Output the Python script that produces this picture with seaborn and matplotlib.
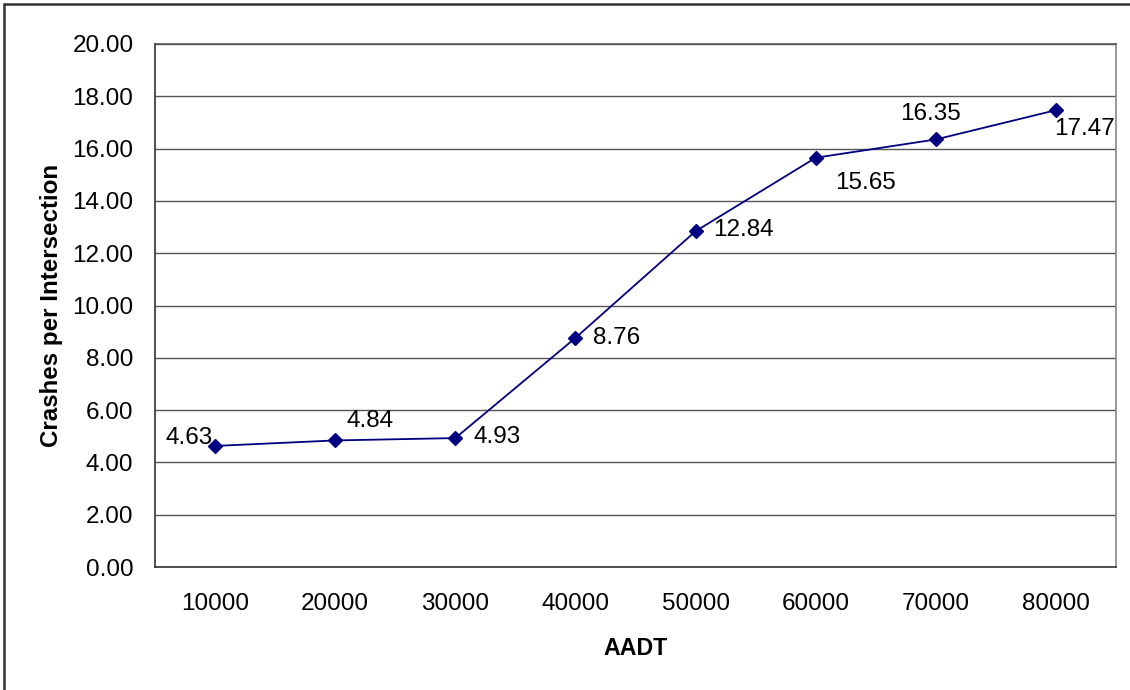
import matplotlib
matplotlib.use("Agg")
import matplotlib.pyplot as plt
import seaborn as sns
import numpy as np
from matplotlib.lines import Line2D

categories = ["10000", "20000", "30000", "40000", "50000", "60000", "70000", "80000"]
crashes = [4.63, 4.84, 4.93, 8.76, 12.84, 15.65, 16.35, 17.47]
y_ticks = [0, 2, 4, 6, 8, 10, 12, 14, 16, 18, 20]
x_label = "AADT"
y_label = "Crashes per Intersection"

# label offsets (points) and alignment for each data label
label_offsets = [(-2, 5.5), (8, 14), (13, 0.5), (13, 0), (13, 1), (14, -18), (-26, 18), (-1, -13.5)]
label_ha = ["right", "left", "left", "left", "left", "left", "left", "left"]

sns.set_style("white")
plt.rcParams["font.family"] = ["Liberation Sans", "DejaVu Sans"]
plt.rcParams["text.color"] = "black"
plt.rcParams["xtick.color"] = "black"
plt.rcParams["ytick.color"] = "black"
plt.rcParams["axes.labelcolor"] = "black"

fig = plt.figure(figsize=(11.3, 6.9), dpi=100)
ax = fig.add_axes([155 / 1130, (690 - 567) / 690, (1116 - 155) / 1130, (567 - 44) / 690])

sns.pointplot(x=categories, y=crashes, ax=ax, color="#000080", markers="D",
              markersize=7.5, linewidth=1.3, errorbar=None, native_scale=False)

ax.set_xlim(-0.5, len(categories) - 0.5)
ax.set_ylim(0, 20)
ax.set_yticks(y_ticks)
ax.set_yticklabels([f"{v:.2f}" for v in y_ticks], fontsize=17.5)
ax.yaxis.grid(True, color="#555555", linewidth=1.0)
ax.set_axisbelow(True)

# category labels at centers, tick marks between categories
ax.set_xticks(np.arange(len(categories)))
ax.set_xticklabels(categories, fontsize=17.5)
ax.tick_params(axis="x", length=0, pad=19)
ax.set_xticks(np.arange(len(categories) + 1) - 0.5, minor=True)
ax.tick_params(axis="x", which="minor", length=7, width=1, color="#333333", direction="out")
ax.tick_params(axis="y", length=7, width=1, color="#333333", direction="out", pad=8.5,
               labelcolor="black")

for side in ["left", "bottom"]:
    ax.spines[side].set_color("#333333")
    ax.spines[side].set_linewidth(1.2)
for side in ["right", "top"]:
    ax.spines[side].set_color("#888888")
    ax.spines[side].set_linewidth(1.2)
ax.spines["top"].set_color("#555555")

ax.set_xlabel(x_label, fontsize=16.7, fontweight="bold", labelpad=15.5)
ax.set_ylabel(y_label, fontsize=17.4, fontweight="bold", labelpad=7)

for i, v in enumerate(crashes):
    ax.annotate(f"{v:.2f}", xy=(i, v), xytext=label_offsets[i], textcoords="offset points",
                ha=label_ha[i], va="center", fontsize=17.5, color="black")

# figure frame (left and top edges visible)
fig.add_artist(Line2D([3.5 / 1130, 3.5 / 1130], [0, 1 - 3.5 / 690], transform=fig.transFigure,
                      color="#333333", linewidth=1.8))
fig.add_artist(Line2D([3.5 / 1130, 1], [1 - 3.5 / 690, 1 - 3.5 / 690], transform=fig.transFigure,
                      color="#333333", linewidth=1.8))

fig.savefig("out.png", dpi=100)
